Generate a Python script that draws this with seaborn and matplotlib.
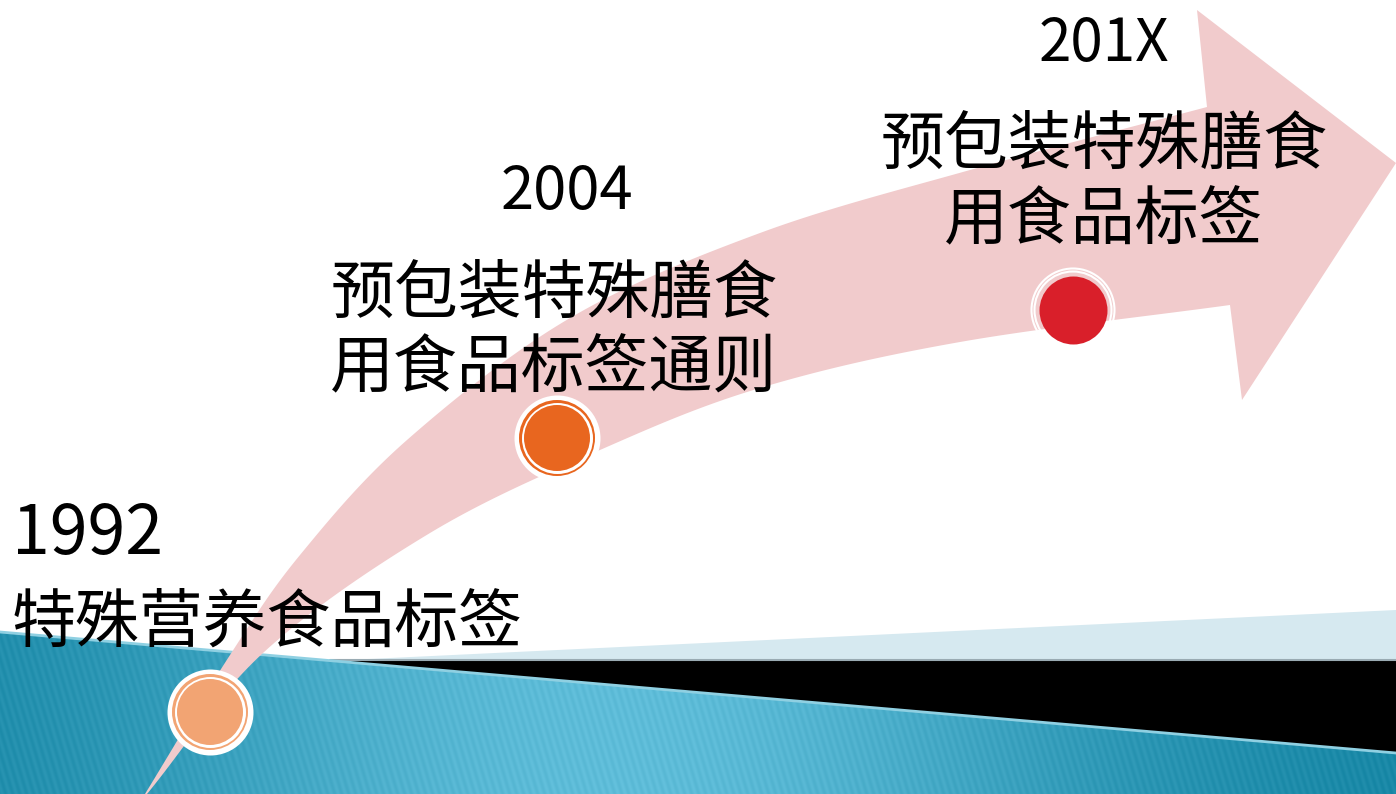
import numpy as np
import pandas as pd
import matplotlib
matplotlib.use('Agg')
import matplotlib.pyplot as plt
from matplotlib.patches import Polygon
import seaborn as sns

# Timeline milestones
years = ['1992', '2004', '201X']
title_lines = [['特殊营养食品标签'],
               ['预包装特殊膳食', '用食品标签通则'],
               ['预包装特殊膳食', '用食品标签']]
dot_x = [210, 557, 1073]
dot_y = [712, 438, 310]
dot_colors = ['#f2a473', '#e8661f', '#d91f2a']

# label placement (pixel coords of the slide)
year_pos = [(12, 535, 'left'), (567, 192, 'center'), (1104, 44, 'center')]
title_pos = [(12, [623], 'left'), (554, [295, 369], 'center'), (1104, [146, 221], 'center')]

# curved arrow outline
upper_x = [145, 230, 300, 407, 570, 760, 970, 1207]
upper_y = [794, 655, 555, 440, 318, 233, 170, 107]
lower_x = [147, 263, 430, 600, 760, 960, 1230]
lower_y = [794, 653, 533, 450, 388, 342, 305]
head_x = [1207, 1197, 1396, 1242, 1230]
head_y = [107, 10, 163, 400, 305]

W, H = 1396, 794

sns.set_theme(style='white')
plt.rcParams['font.family'] = ['Noto Sans CJK SC', 'DejaVu Sans']

fig = plt.figure(figsize=(W / 100, H / 100), dpi=100)
ax = fig.add_axes([0, 0, 1, 1])
ax.set_xlim(0, W)
ax.set_ylim(H, 0)
ax.axis('off')


def catmull(xs, ys, n=24):
    p = np.column_stack([xs, ys]).astype(float)
    p = np.vstack([2 * p[0] - p[1], p, 2 * p[-1] - p[-2]])
    out = []
    for i in range(1, len(p) - 2):
        p0, p1, p2, p3 = p[i - 1], p[i], p[i + 1], p[i + 2]
        for t in np.linspace(0, 1, n, endpoint=False):
            out.append(0.5 * (2 * p1 + (-p0 + p2) * t
                              + (2 * p0 - 5 * p1 + 4 * p2 - p3) * t ** 2
                              + (-p0 + 3 * p1 - 3 * p2 + p3) * t ** 3))
    out.append(p[-2])
    return np.array(out)


# background bands
ax.add_patch(Polygon([(0, 660), (W, 660), (W, H), (0, H)], closed=True,
                     facecolor='black', edgecolor='none', zorder=1))
ax.add_patch(Polygon([(348, 660), (W, 610), (W, 660)], closed=True,
                     facecolor='#d6e9f0', edgecolor='none', zorder=1))
ax.plot([330, W], [660, 660], color='#9aabb3', lw=1.5, zorder=1.5)

teal = Polygon([(0, 632), (W, 753), (W, H), (0, H)], closed=True,
               facecolor='none', edgecolor='none', zorder=2)
ax.add_patch(teal)
gx, gy = np.meshgrid(np.arange(W), np.arange(620, H))
g = np.exp(-((gx - 620) / 480.0) ** 2)
stripe = 0.07 * np.sin(2 * np.pi * (gx - 0.3 * gy) / 7.0)
dark = np.array([0.08, 0.52, 0.64])
light = np.array([0.37, 0.74, 0.85])
img = dark + (g[..., None] + stripe[..., None]) * (light - dark)
img = np.clip(img, 0, 1)
im = ax.imshow(img, extent=(0, W, H, 620), origin='upper', zorder=2, aspect='auto')
im.set_clip_path(teal)
ax.plot([0, W], [632, 753], color='#8fd0e2', lw=2, zorder=2.5)

# arrow
up = catmull(upper_x, upper_y)
lo = catmull(lower_x, lower_y)
outline = np.vstack([up, np.column_stack([head_x, head_y])[1:], lo[::-1]])
ax.add_patch(Polygon(outline, closed=True, facecolor='#f1cbcc',
                     edgecolor='none', zorder=3))

# milestone dots
dots = pd.DataFrame({'x': dot_x, 'y': dot_y, 'color': dot_colors})
first = dots.iloc[:2]
last = dots.iloc[2:]


def r2s(r):
    return (1.44 * r) ** 2


sns.scatterplot(data=first, x='x', y='y', s=r2s(43), color='white', linewidth=0, ax=ax, zorder=4)
sns.scatterplot(data=first, x='x', y='y', s=r2s(38), hue='color', palette=list(first['color']),
                linewidth=0, legend=False, ax=ax, zorder=5)
sns.scatterplot(data=first, x='x', y='y', s=r2s(35.5), color='white', linewidth=0, ax=ax, zorder=6)
sns.scatterplot(data=first, x='x', y='y', s=r2s(33), hue='color', palette=list(first['color']),
                linewidth=0, legend=False, ax=ax, zorder=7)

sns.scatterplot(data=last, x='x', y='y', s=r2s(41.5), facecolor='none', edgecolor='white',
                linewidth=1.5, ax=ax, zorder=4)
sns.scatterplot(data=last, x='x', y='y', s=r2s(38.5), facecolor='none', edgecolor='white',
                linewidth=1.5, ax=ax, zorder=4)
sns.scatterplot(data=last, x='x', y='y', s=r2s(34), color=last['color'].iloc[0],
                linewidth=0, ax=ax, zorder=7)

# text
year_sizes = [49, 43, 42]
for yr, (x, y, ha), fs in zip(years, year_pos, year_sizes):
    ax.text(x, y, yr, fontsize=fs, ha=ha, va='center', color='black', zorder=9)
for lines, (x, ys, ha) in zip(title_lines, title_pos):
    for line, y in zip(lines, ys):
        ax.text(x, y, line, fontsize=46, ha=ha, va='center', color='black', zorder=9)

fig.savefig('out.png', dpi=100)
